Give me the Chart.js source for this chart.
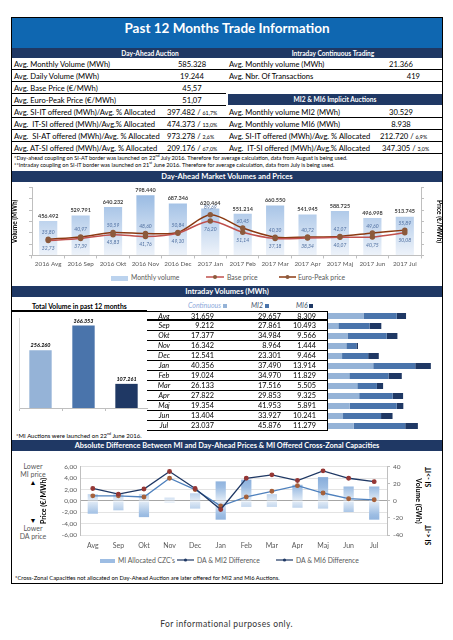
<!DOCTYPE html>
<html>
<head>
<meta charset="utf-8">
<script src="https://cdn.jsdelivr.net/npm/chart.js@4.4.1/dist/chart.umd.min.js"></script>
<style>
  body { margin:0; width:453px; height:640px; background:#fff; position:relative; overflow:hidden;
         font-family: Lato, 'Liberation Sans', sans-serif; color:#000; }
  .a { position:absolute; white-space:nowrap; }
  .hdr { position:absolute; background:#1f3864; color:#fff; font-weight:bold; text-align:center; white-space:nowrap; }
  .row { position:absolute; height:12px; font-size:7.6px; border-bottom:1px solid #000; box-sizing:border-box; }
  .row span { position:absolute; top:0; line-height:12px; white-space:nowrap; }
  .pc { font-size:5.3px; }
  .note { position:absolute; font-size:5.6px; white-space:nowrap; }
  .note sup { font-size:3.6px; }
  .irow { position:absolute; left:147px; width:181px; height:10px; border-bottom:1px solid #000; box-sizing:border-box; font-size:7.3px; }
  .irow span { position:absolute; top:0; line-height:9px; }
  .leg { position:absolute; font-size:6.8px; color:#595959; white-space:nowrap; line-height:8px; }
  .side { position:absolute; font-size:7px; color:#595959; text-align:center; width:44px; line-height:8px; }
  canvas { position:absolute; }
</style>
</head>
<body>
<!-- frame + title -->
<div class="a" style="left:11px;top:17px;width:432px;height:567px;border:1px solid #000;box-sizing:border-box"></div>
<div class="hdr" style="left:12px;top:18px;width:430px;height:30px;background:#0f67b1;font-size:13.5px;line-height:21px">Past 12 Months Trade Information</div>
<div class="hdr" style="left:12px;top:48px;width:430px;height:10px"></div>
<div class="a" style="left:0;width:300px;top:48px;line-height:10px;font-size:6.6px;color:#fff;font-weight:bold;text-align:center">Day-Ahead Auction</div>
<div class="a" style="left:233px;width:200px;top:48px;line-height:10px;font-size:6.6px;color:#fff;font-weight:bold;text-align:center">Intraday Continuous Trading</div>

<!-- left summary table -->
<div class="row" style="left:12px;top:58px;width:214px"><span style="left:2px">Avg. Monthly Volume (MWh)</span><span style="left:155px;width:50px;text-align:center">585.328</span></div>
<div class="row" style="left:12px;top:70px;width:214px"><span style="left:2px">Avg. Daily Volume (MWh)</span><span style="left:155px;width:50px;text-align:center">19.244</span></div>
<div class="row" style="left:12px;top:82px;width:214px"><span style="left:2px">Avg. Base Price (€/MWh)</span><span style="left:155px;width:50px;text-align:center">45,57</span></div>
<div class="row" style="left:12px;top:94px;width:214px"><span style="left:2px">Avg. Euro-Peak Price (€/MWh)</span><span style="left:155px;width:50px;text-align:center">51,07</span></div>
<div class="row" style="left:12px;top:106px;width:214px"><span style="left:2px">Avg. SI-IT offered (MWh)/Avg. % Allocated</span><span style="left:155px">397.482 / <span class="pc" style="position:static">61,7%</span></span></div>
<div class="row" style="left:12px;top:118px;width:214px"><span style="left:2px">Avg.&nbsp; IT-SI offered (MWh)/Avg.% Allocated</span><span style="left:155px">474.373 / <span class="pc" style="position:static">13,0%</span></span></div>
<div class="row" style="left:12px;top:130px;width:214px"><span style="left:2px">Avg.&nbsp; SI-AT offered (MWh)/Avg. % Allocated</span><span style="left:155px">973.278 / <span class="pc" style="position:static">2,6%</span></span></div>
<div class="row" style="left:12px;top:142px;width:214px"><span style="left:2px">Avg. AT-SI offered (MWh)/Avg. % Allocated</span><span style="left:155px">209.176 / <span class="pc" style="position:static">67,0%</span></span></div>

<!-- right summary table -->
<div class="row" style="left:226px;top:58px;width:216px"><span style="left:3px">Avg. Monthly volume (MWh)</span><span style="left:150px;width:50px;text-align:center">21.366</span></div>
<div class="row" style="left:226px;top:70px;width:216px"><span style="left:3px">Avg. Nbr. Of Transactions</span><span style="left:144px;width:50px;text-align:right">419</span></div>
<div class="hdr" style="left:228px;top:94px;width:214px;height:11px;line-height:11px;font-size:6.6px">MI2 &amp; MI6 Implicit Auctions</div>
<div class="row" style="left:226px;top:106px;width:216px"><span style="left:3px">Avg. Monthly volume MI2 (MWh)</span><span style="left:150px;width:50px;text-align:center">30.529</span></div>
<div class="row" style="left:226px;top:118px;width:216px"><span style="left:3px">Avg. Monthly volume MI6 (MWh)</span><span style="left:150px;width:50px;text-align:center">8.938</span></div>
<div class="row" style="left:226px;top:130px;width:216px"><span style="left:3px">Avg. SI-IT offered (MWh)/Avg. % Allocated</span><span style="left:154px">212.720 / <span class="pc" style="position:static">6,9%</span></span></div>
<div class="row" style="left:226px;top:142px;width:216px"><span style="left:3px">Avg.&nbsp; IT-SI offered (MWh)/Avg.% Allocated</span><span style="left:156px">347.305 / <span class="pc" style="position:static">3,0%</span></span></div>

<div class="note" style="left:14px;top:153px">*Day-ahead coupling on SI-AT border was launched on 22<sup>nd</sup> July 2016. Therefore for average calculation, data from August is being used.</div>
<div class="note" style="left:14px;top:160px">**Intraday coupling on SI-IT border was launched on 21<sup>st</sup> June 2016. Therefore for average calculation, data from July is being used.</div>

<!-- day-ahead chart -->
<div class="hdr" style="left:12px;top:171px;width:430px;height:11px;line-height:11px;font-size:7.6px">Day-Ahead Market Volumes and Prices</div>
<canvas id="daChart" width="432" height="88" style="left:11px;top:182px;width:432px;height:88px"></canvas>
<div class="leg" style="left:111px;top:273px"><span style="display:inline-block;width:17px;height:5px;background:#bcd3ee;vertical-align:middle"></span></div>
<div class="leg" style="left:131px;top:273px">Monthly volume</div>
<svg class="a" style="left:206px;top:274px" width="18" height="6"><line x1="0" y1="3" x2="18" y2="3" stroke="#c0504d" stroke-width="1.5"/><circle cx="9" cy="3" r="2" fill="#8c5a3c"/></svg>
<div class="leg" style="left:227px;top:273px">Base price</div>
<svg class="a" style="left:279px;top:274px" width="17" height="6"><line x1="0" y1="3" x2="17" y2="3" stroke="#8b3a12" stroke-width="1.5"/><circle cx="8.5" cy="3" r="2" fill="#8c5a3c"/></svg>
<div class="leg" style="left:298px;top:273px">Euro-Peak price</div>

<!-- intraday -->
<div class="hdr" style="left:12px;top:286px;width:430px;height:11px;line-height:11px;font-size:7.6px">Intraday Volumes (MWh)</div>
<div class="a" style="left:32px;top:302px;font-size:6.8px;font-weight:bold;line-height:8px">Total Volume in past 12 months</div>
<div class="a" style="left:12px;top:310px;width:135px;height:2px;background:#000"></div>
<div class="a" style="left:188px;top:301px;font-size:7px;font-style:italic;color:#8eaadb;line-height:8px">Continuous <span style="display:inline-block;width:4px;height:4px;background:#95b3d7"></span></div>
<div class="a" style="left:251px;top:301px;font-size:7px;font-style:italic;color:#44546a;line-height:8px">MI2 <span style="display:inline-block;width:4px;height:4px;background:#4a74ab"></span></div>
<div class="a" style="left:296px;top:301px;font-size:7px;font-style:italic;color:#44546a;line-height:8px">MI6 <span style="display:inline-block;width:4px;height:4px;background:#1f3864"></span></div>
<canvas id="totChart" width="134" height="100" style="left:14px;top:312px;width:134px;height:100px"></canvas>
<div id="idTable"></div>
<div class="a" style="left:327px;top:311px;width:1px;height:120px;background:#000"></div>
<canvas id="idBars" width="115" height="120" style="left:328px;top:311px;width:115px;height:120px"></canvas>
<div class="note" style="left:16px;top:431px;font-size:6px">*MI Auctions were launched on 22<sup>nd</sup> June 2016.</div>

<!-- MI vs DA -->
<div class="hdr" style="left:12px;top:440px;width:430px;height:11px;line-height:11px;font-size:7.4px">Absolute Difference Between MI and Day-Ahead Prices &amp; MI Offered Cross-Zonal Capacities</div>
<div class="side" style="left:11px;top:462px">Lower<br>MI price<br><span style="color:#000">▲</span></div>
<div class="side" style="left:11px;top:516px"><span style="color:#000">▼</span><br>Lower<br>DA price</div>
<canvas id="miChart" width="382" height="93" style="left:40px;top:460px;width:382px;height:93px"></canvas>
<div class="a" style="left:428px;top:477px;transform:translate(-50%,-50%) rotate(-90deg);font-size:7px;font-weight:bold">SI -&gt;IT</div>
<div class="a" style="left:428px;top:535px;transform:translate(-50%,-50%) rotate(-90deg);font-size:7px;font-weight:bold">SI &lt;-IT</div>
<div class="leg" style="left:100px;top:556px"><span style="display:inline-block;width:15px;height:4px;background:#9dbde3;vertical-align:middle"></span></div>
<div class="leg" style="left:118px;top:556px">MI Allocated CZC's</div>
<svg class="a" style="left:177px;top:557px" width="17" height="6"><line x1="0" y1="3" x2="17" y2="3" stroke="#1f3864" stroke-width="1.2"/><circle cx="8.5" cy="3" r="1.6" fill="#1f3864"/></svg>
<div class="leg" style="left:197px;top:556px">DA &amp; MI2 Difference</div>
<svg class="a" style="left:276px;top:557px" width="17" height="6"><line x1="0" y1="3" x2="17" y2="3" stroke="#1f3864" stroke-width="1.2"/><circle cx="8.5" cy="3" r="1.6" fill="#1f3864"/></svg>
<div class="leg" style="left:296px;top:556px">DA &amp; MI6 Difference</div>
<div class="note" style="left:15px;top:574px;font-size:5.8px">*Cross-Zonal Capacities not allocated on Day-Ahead Auction are later offered for MI2 and MI6 Auctions.</div>

<div class="a" style="left:0;width:453px;top:619px;text-align:center;font-size:8.5px;letter-spacing:0.4px;color:#333">For informational purposes only.</div>

<script>
// day-ahead auction
const daMonths = ['2016 Avg', '2016 Sep', '2016 Okt', '2016 Nov', '2016 Dec', '2017 Jan',
  '2017 Feb', '2017 Mar', '2017 Apr', '2017 Maj', '2017 Jun', '2017 Jul'];
const daVolume = [456492, 529791, 640232, 798440, 687346, 620464, 551214, 660550, 541945, 588725, 496998, 513745];
const basePrice = [32.73, 37.39, 45.83, 41.76, 49.10, 76.20, 51.14, 37.18, 38.34, 40.07, 40.75, 50.08];
const peakPrice = [35.80, 40.97, 50.59, 48.60, 50.84, 89.69, 60.45, 40.30, 40.72, 42.07, 49.60, 55.89];

// intraday volumes (MWh)
const idMonths = ['Avg', 'Sep', 'Okt', 'Nov', 'Dec', 'Jan', 'Feb', 'Mar', 'Apr', 'Maj', 'Jun', 'Jul'];
const idContinuous = [31659, 9212, 17377, 16342, 12541, 40356, 19024, 26133, 27822, 19354, 13404, 23037];
const idMI2 = [29657, 27861, 34984, 8964, 23301, 37490, 34970, 17516, 29853, 41953, 33927, 45876];
const idMI6 = [8309, 10493, 9566, 1444, 9464, 13914, 11829, 5505, 9325, 5891, 10241, 11279];
const totalNames = ['Continuous', 'MI2', 'MI6'];
const totalVolume = [256260, 366353, 107261];

// MI vs DA price difference (€/MWh) and allocated CZC (GWh)
const czcUp = [8, 8, 8, 4, 9, 23, 25, 8, 19, 28, 17, 17];
const czcDown = [-15, -11, -19, -2, -9, -22, -7, -7, -8, -9, -13, -22];
const diffMI2 = [2.2, 1.2, 2.1, 5.2, 2.2, -1.5, 4.0, 4.6, 3.6, 5.3, 4.0, 3.4];
const diffMI6 = [0.9, 0.9, 0.7, 4.0, 2.0, -0.9, 0.7, 1.7, 2.7, 1.4, 0.4, 0.2];

const seriesColors = ['#95b3d7', '#4a74ab', '#1f3864'];

Chart.defaults.font.family = 'Lato, "Liberation Sans", sans-serif';
Chart.defaults.animation = false;
Chart.defaults.responsive = false;
Chart.defaults.plugins.legend.display = false;
Chart.defaults.plugins.tooltip.enabled = false;

const fmtInt = v => String(v).replace(/\B(?=(\d{3})+(?!\d))/g, '.');
const fmtDec = v => v.toFixed(2).replace('.', ',');

// labels on the day-ahead chart
const daLabels = {
  id: 'daLabels',
  afterDatasetsDraw(chart) {
    const ctx = chart.ctx;
    ctx.save();
    ctx.textAlign = 'center';
    ctx.textBaseline = 'middle';
    chart.data.datasets.forEach((ds, i) => {
      chart.getDatasetMeta(i).data.forEach((el, j) => {
        if (ds.type === 'bar') {
          ctx.font = 'bold 5.5px Lato';
          ctx.fillStyle = '#404040';
          ctx.fillText(fmtInt(ds.data[j]), el.x, el.y - 5);
        } else {
          ctx.font = 'italic 5px Lato';
          ctx.fillStyle = '#4f6fa0';
          ctx.fillText(fmtDec(ds.data[j]), el.x, el.y + (ds.label === 'Base price' ? 8 : -7));
        }
      });
    });
    ctx.restore();
  }
};

new Chart(document.getElementById('daChart'), {
  data: {
    labels: daMonths,
    datasets: [
      {
        type: 'line', label: 'Base price', data: basePrice, yAxisID: 'yp', order: 0,
        borderColor: '#c0504d', borderWidth: 1.5, pointRadius: 2, pointBackgroundColor: '#8c5a3c',
        pointBorderColor: '#8c5a3c', tension: 0.3
      },
      {
        type: 'line', label: 'Euro-Peak price', data: peakPrice, yAxisID: 'yp', order: 1,
        borderColor: '#8b3a12', borderWidth: 1.5, pointRadius: 2, pointBackgroundColor: '#8c5a3c',
        pointBorderColor: '#8c5a3c', tension: 0.3
      },
      {
        type: 'bar', label: 'Monthly volume', data: daVolume, yAxisID: 'yv', order: 2,
        barPercentage: 0.56, categoryPercentage: 1,
        backgroundColor: c => {
          const a = c.chart.chartArea;
          if (!a) return '#bcd3ee';
          const g = c.chart.ctx.createLinearGradient(0, a.top, 0, a.bottom);
          g.addColorStop(0, '#8fb4e0');
          g.addColorStop(1, '#eef3fa');
          return g;
        }
      }
    ]
  },
  options: {
    layout: { padding: { top: 1, bottom: 0 } },
    scales: {
      x: {
        grid: { display: true, drawOnChartArea: false, offset: true, tickLength: 3, color: '#bfbfbf' },
        border: { color: '#bfbfbf' },
        ticks: { color: '#595959', font: { size: 6.3 }, maxRotation: 0, autoSkip: false, padding: 2 }
      },
      yv: {
        position: 'left', min: 0, max: 900000,
        ticks: { display: false, stepSize: 150000 },
        grid: { drawOnChartArea: false, tickLength: 3, color: '#bfbfbf' },
        border: { color: '#bfbfbf' },
        title: { display: true, text: 'Volume (MWh)', color: '#000', font: { size: 6.5, weight: 'bold' }, padding: 0 },
        afterFit: s => { s.width = 21; }
      },
      yp: {
        position: 'right', min: 0, max: 150,
        ticks: { display: false, stepSize: 25 },
        grid: { drawOnChartArea: false, tickLength: 3, color: '#bfbfbf' },
        border: { color: '#bfbfbf' },
        title: { display: true, text: 'Price (€/MWh)', color: '#000', font: { size: 6.5, weight: 'bold' }, padding: 0 },
        afterFit: s => { s.width = 22; }
      }
    }
  },
  plugins: [daLabels]
});

// total intraday volume
const totLabels = {
  id: 'totLabels',
  afterDatasetsDraw(chart) {
    const ctx = chart.ctx;
    ctx.save();
    ctx.font = 'italic bold 5.5px Lato';
    ctx.fillStyle = '#000';
    ctx.textAlign = 'center';
    chart.getDatasetMeta(0).data.forEach((el, j) => {
      ctx.fillText(fmtInt(totalVolume[j]), el.x, el.y - 3);
    });
    ctx.restore();
  }
};

new Chart(document.getElementById('totChart'), {
  type: 'bar',
  data: {
    labels: totalNames,
    datasets: [{ data: totalVolume, backgroundColor: seriesColors, barPercentage: 0.52, categoryPercentage: 1 }]
  },
  options: {
    layout: { padding: { top: 6 } },
    scales: {
      x: {
        ticks: { display: false },
        grid: { drawOnChartArea: false, offset: true, tickLength: 3, color: '#bfbfbf' },
        border: { color: '#bfbfbf' },
        afterFit: s => { s.height = 4; }
      },
      y: {
        min: 0, max: 400000,
        ticks: { display: false },
        grid: { display: false },
        border: { color: '#d9d9d9' },
        afterFit: s => { s.width = 5; }
      }
    }
  },
  plugins: [totLabels]
});

// intraday table rows
const tbl = document.getElementById('idTable');
idMonths.forEach((m, i) => {
  const r = document.createElement('div');
  r.className = 'irow';
  r.style.top = (311 + i * 10) + 'px';
  if (i === 0) { r.style.borderTop = '1px solid #000'; r.style.borderBottom = '2px solid #000'; }
  r.innerHTML =
    '<span style="left:0;width:34px;text-align:center;font-style:italic">' + m + '</span>' +
    '<span style="right:114px">' + fmtInt(idContinuous[i]) + '</span>' +
    '<span style="right:47px">' + fmtInt(idMI2[i]) + '</span>' +
    '<span style="right:12px">' + fmtInt(idMI6[i]) + '</span>';
  tbl.appendChild(r);
});

new Chart(document.getElementById('idBars'), {
  type: 'bar',
  data: {
    labels: idMonths,
    datasets: [
      { label: 'Continuous', data: idContinuous, backgroundColor: seriesColors[0] },
      { label: 'MI2', data: idMI2, backgroundColor: seriesColors[1] },
      { label: 'MI6', data: idMI6, backgroundColor: seriesColors[2] }
    ].map(d => Object.assign(d, { barPercentage: 0.6, categoryPercentage: 1 }))
  },
  options: {
    indexAxis: 'y',
    layout: { padding: 0 },
    scales: {
      x: { stacked: true, min: 0, max: 102600, display: false },
      y: { stacked: true, display: false }
    }
  }
});

// MI vs DA prices + CZC
const czcFill = c => {
  const a = c.chart.chartArea;
  if (!a) return '#9dbde3';
  const g = c.chart.ctx.createLinearGradient(0, a.top, 0, a.bottom);
  g.addColorStop(0, '#6f9bd1');
  g.addColorStop(0.3, '#9dbde3');
  g.addColorStop(0.5, '#e4edf7');
  g.addColorStop(0.7, '#9dbde3');
  g.addColorStop(1, '#6f9bd1');
  return g;
};

new Chart(document.getElementById('miChart'), {
  data: {
    labels: idMonths,
    datasets: [
      {
        type: 'line', label: 'DA & MI2 Difference', data: diffMI2, yAxisID: 'y', order: 0,
        borderColor: '#1f3864', borderWidth: 1.3, pointRadius: 1.8,
        pointBackgroundColor: '#953735', pointBorderColor: '#953735'
      },
      {
        type: 'line', label: 'DA & MI6 Difference', data: diffMI6, yAxisID: 'y', order: 1,
        borderColor: '#4f81bd', borderWidth: 1.3, pointRadius: 1.8,
        pointBackgroundColor: '#a5603a', pointBorderColor: '#a5603a'
      },
      { type: 'bar', label: "MI Allocated CZC's", data: czcUp, yAxisID: 'y2', order: 2, backgroundColor: czcFill, barPercentage: 0.4, categoryPercentage: 1 },
      { type: 'bar', label: "MI Allocated CZC's (SI<-IT)", data: czcDown, yAxisID: 'y2', order: 3, backgroundColor: czcFill, barPercentage: 0.4, categoryPercentage: 1 }
    ]
  },
  options: {
    layout: { padding: { top: 5 } },
    scales: {
      x: {
        stacked: true,
        grid: { display: false, drawTicks: false },
        border: { display: false },
        ticks: { color: '#595959', font: { size: 7 }, maxRotation: 0, autoSkip: false, padding: 7 },
        afterFit: s => { s.height = 18; }
      },
      y: {
        position: 'left', min: -6, max: 6,
        ticks: { stepSize: 2, autoSkip: false, color: '#595959', font: { size: 6.5 }, padding: 3, callback: v => fmtDec(v) },
        grid: { drawTicks: false, color: c => c.tick.value === 0 ? '#a6a6a6' : '#e3e3e3' },
        border: { color: '#bfbfbf' },
        title: { display: true, text: 'Price (€/MWh)', color: '#000', font: { size: 7, weight: 'bold' }, padding: 0 },
        afterFit: s => { s.width = 40; }
      },
      y2: {
        position: 'right', min: -40, max: 40, stacked: true,
        ticks: { stepSize: 20, autoSkip: false, color: '#595959', font: { size: 6.5 }, padding: 3 },
        grid: { drawOnChartArea: false, tickLength: 3, color: '#bfbfbf' },
        border: { color: '#bfbfbf' },
        title: { display: true, text: 'Volume (GWh)', color: '#000', font: { size: 7, weight: 'bold' }, padding: 0 },
        afterFit: s => { s.width = 35; }
      }
    }
  }
});
</script>
</body>
</html>
